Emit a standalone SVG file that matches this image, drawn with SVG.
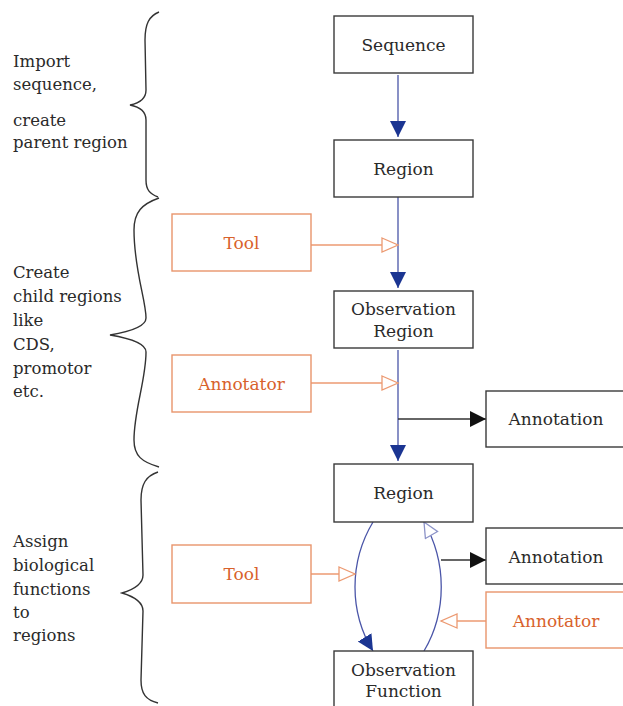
<svg xmlns="http://www.w3.org/2000/svg" width="623" height="706" viewBox="0 0 623 706">
<style>
.box{fill:#fff;stroke:#3a3a3a;stroke-width:1.4}
.obox{fill:#fff;stroke:#e8956c;stroke-width:1.4}
.t{font-family:"DejaVu Serif","Liberation Serif",serif;font-size:17px;fill:#2a2a2a;text-anchor:middle}
.ot{font-family:"DejaVu Serif","Liberation Serif",serif;font-size:17px;fill:#d8622c;text-anchor:middle}
.lt{font-family:"DejaVu Serif","Liberation Serif",serif;font-size:16.5px;fill:#2a2a2a}
.blue{fill:none;stroke:#4a55a8;stroke-width:1.3}
.blk{fill:none;stroke:#333;stroke-width:1.4}
.org{fill:none;stroke:#ec9a72;stroke-width:1.4}
.brace{fill:none;stroke:#333;stroke-width:1.4}
</style>
<defs>
<marker id="mb" markerUnits="userSpaceOnUse" markerWidth="18" markerHeight="18" refX="16" refY="8" orient="auto" viewBox="0 0 18 18">
<path d="M0,0 L16,8 L0,16 Z" fill="#1b3592"/>
</marker>
<marker id="mk" markerUnits="userSpaceOnUse" markerWidth="18" markerHeight="18" refX="16" refY="8" orient="auto" viewBox="0 0 18 18">
<path d="M0,0 L16,8 L0,16 Z" fill="#111"/>
</marker>
<marker id="mo" markerUnits="userSpaceOnUse" markerWidth="20" markerHeight="18" refX="17" refY="8" orient="auto" viewBox="0 0 20 18">
<path d="M1,1 L17,8 L1,15 Z" fill="#fff" stroke="#ec9a72" stroke-width="1.3"/>
</marker>
<marker id="mw" markerUnits="userSpaceOnUse" markerWidth="20" markerHeight="18" refX="16" refY="8" orient="auto" viewBox="0 0 20 18">
<path d="M1,1 L16,8 L1,15 Z" fill="#fff" stroke="#8c93c8" stroke-width="1.3"/>
</marker>
</defs>

<g id="braces">
<path class="brace" d="M159,12 C149,16 145,24 145,40 L146,90 C146,99 140,103 130,105 C140,107 146,111 146,120 L146,180 C146,190 150,194 158,197"/>
<path class="brace" d="M159,198 C142,204 134,212 134,230 C134,270 146,300 146,318 C146,328 122,333 110,335 C122,337 146,342 146,352 C146,380 134,410 134,440 C134,456 142,462 159,467"/>
<path class="brace" d="M158,472 C146,476 141,484 141,500 L143,575 C143,585 132,590 122,593 C132,596 143,601 143,611 L141,680 C141,694 146,700 158,703"/>
</g>

<g id="labels">
<text class="lt" x="13" y="67">Import</text>
<text class="lt" x="13" y="90">sequence,</text>
<text class="lt" x="13" y="126">create</text>
<text class="lt" x="13" y="148">parent region</text>
<text class="lt" x="13" y="278">Create</text>
<text class="lt" x="13" y="302">child regions</text>
<text class="lt" x="13" y="326">like</text>
<text class="lt" x="13" y="350">CDS,</text>
<text class="lt" x="13" y="374">promotor</text>
<text class="lt" x="13" y="397">etc.</text>
<text class="lt" x="13" y="547">Assign</text>
<text class="lt" x="13" y="571">biological</text>
<text class="lt" x="13" y="595">functions</text>
<text class="lt" x="13" y="618">to</text>
<text class="lt" x="13" y="641">regions</text>
</g>

<g id="connectors">
<path class="blue" d="M398,75 L398,137" marker-end="url(#mb)"/>
<path class="blue" d="M398,197 L398,288" marker-end="url(#mb)"/>
<path class="blue" d="M398,350 L398,461" marker-end="url(#mb)"/>
<path class="blk" d="M398,419 L486,419" marker-end="url(#mk)"/>
<path class="org" d="M311,245 L398,245" marker-end="url(#mo)"/>
<path class="org" d="M311,383 L398,383" marker-end="url(#mo)"/>
<path class="blue" d="M373,522 C349,562 349,612 373,651" marker-end="url(#mb)"/>
<path class="blue" d="M424,651 C447,612 447,562 424,522" marker-end="url(#mw)"/>
<path class="org" d="M311,574 L355,574" marker-end="url(#mo)"/>
<path class="blk" d="M441,560 L486,560" marker-end="url(#mk)"/>
<path class="org" d="M486,621 L441,621" marker-end="url(#mo)"/>
</g>

<g id="sequence">
<rect class="box" x="334" y="16" width="139" height="57"/>
<text class="t" x="403.5" y="51">Sequence</text>
</g>
<g id="region1">
<rect class="box" x="334" y="140" width="139" height="57"/>
<text class="t" x="403.5" y="175">Region</text>
</g>
<g id="tool1">
<rect class="obox" x="172" y="214" width="139" height="57"/>
<text class="ot" x="241.5" y="249">Tool</text>
</g>
<g id="observation-region">
<rect class="box" x="334" y="291" width="139" height="57"/>
<text class="t" x="403.5" y="315">Observation</text>
<text class="t" x="403.5" y="337">Region</text>
</g>
<g id="annotator1">
<rect class="obox" x="172" y="355" width="139" height="57"/>
<text class="ot" x="241.5" y="390">Annotator</text>
</g>
<g id="annotation1">
<rect class="box" x="486" y="391" width="139" height="56"/>
<text class="t" x="556" y="425">Annotation</text>
</g>
<g id="region2">
<rect class="box" x="334" y="464" width="139" height="58"/>
<text class="t" x="403.5" y="499">Region</text>
</g>
<g id="tool2">
<rect class="obox" x="172" y="545" width="139" height="58"/>
<text class="ot" x="241.5" y="580">Tool</text>
</g>
<g id="annotation2">
<rect class="box" x="486" y="528" width="139" height="56"/>
<text class="t" x="556" y="563">Annotation</text>
</g>
<g id="annotator2">
<rect class="obox" x="486" y="592" width="139" height="56"/>
<text class="ot" x="556" y="627">Annotator</text>
</g>
<g id="observation-function">
<rect class="box" x="334" y="651" width="139" height="70"/>
<text class="t" x="403.5" y="676">Observation</text>
<text class="t" x="403.5" y="697">Function</text>
</g>
</svg>
